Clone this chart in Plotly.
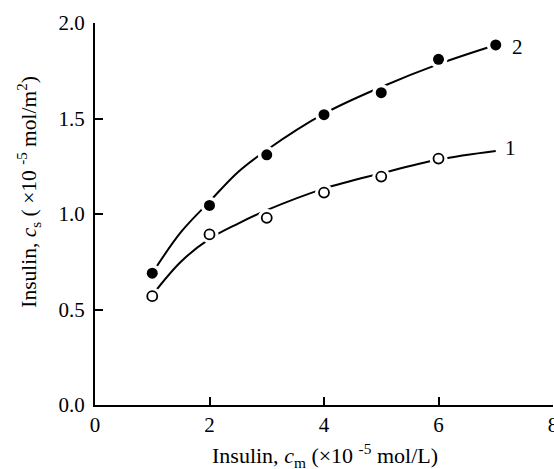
import plotly.graph_objects as go

series2_x = [1, 2, 3, 4, 5, 6, 7]
series2_y = [0.69, 1.045, 1.31, 1.52, 1.635, 1.81, 1.885]   # filled circles, curve "2"
series1_x = [1, 2, 3, 4, 5, 6]
series1_y = [0.57, 0.893, 0.98, 1.112, 1.196, 1.29]         # open circles, curve "1"

# Smooth fitted curves as drawn in the reference
curve2_x = [1, 1.5, 2, 2.5, 3, 4, 5, 6, 7]
curve2_y = [0.69, 0.905, 1.065, 1.22, 1.335, 1.525, 1.665, 1.785, 1.885]
curve1_x = [1, 1.5, 2, 2.5, 3, 4, 5, 6, 7]
curve1_y = [0.575, 0.75, 0.87, 0.95, 1.02, 1.133, 1.213, 1.285, 1.33]

x_ticks = [0, 2, 4, 6, 8]
y_ticks = [0.0, 0.5, 1.0, 1.5, 2.0]

FONT = "Liberation Serif"
fig = go.Figure()

for cx, cy in ((curve2_x, curve2_y), (curve1_x, curve1_y)):
    fig.add_trace(go.Scatter(x=cx, y=cy, mode="lines",
                             line=dict(color="black", width=2, shape="spline", smoothing=1.0),
                             hoverinfo="skip"))
# white halos to create gaps around markers
fig.add_trace(go.Scatter(x=series2_x, y=series2_y, mode="markers",
                         marker=dict(size=18, color="white", line=dict(width=0))))
fig.add_trace(go.Scatter(x=series1_x, y=series1_y, mode="markers",
                         marker=dict(size=18, color="white", line=dict(width=0))))
# markers
fig.add_trace(go.Scatter(x=series2_x, y=series2_y, mode="markers",
                         marker=dict(size=11, color="black", line=dict(width=0))))
fig.add_trace(go.Scatter(x=series1_x, y=series1_y, mode="markers",
                         marker=dict(size=10, color="white", line=dict(width=1.8, color="black"))))

fig.add_annotation(x=7.38, y=1.875, text="2", showarrow=False,
                   font=dict(family=FONT, size=21, color="black"))
fig.add_annotation(x=7.26, y=1.345, text="1", showarrow=False,
                   font=dict(family=FONT, size=21, color="black"))

fig.add_annotation(xref="paper", yref="paper", x=-0.144, y=0.5586,
                   text="Insulin, <i>c</i><sub>s</sub> ( ×10 <sup>-5</sup> mol/m<sup>2</sup>)",
                   textangle=-90, showarrow=False, xanchor="center", yanchor="middle",
                   font=dict(family=FONT, size=21.5, color="black"))
fig.add_annotation(xref="paper", yref="paper", x=0.502, y=-0.133,
                   text="Insulin, <i>c</i><sub>m</sub> (×10 <sup>-5</sup> mol/L)",
                   showarrow=False, xanchor="center", yanchor="middle",
                   font=dict(family=FONT, size=22, color="black"))

fig.update_layout(
    width=554, height=469,
    margin=dict(l=95, r=1, t=23, b=64, autoexpand=False),
    paper_bgcolor="white", plot_bgcolor="white",
    showlegend=False,
    xaxis=dict(range=[0, 8], tickvals=x_ticks, ticktext=[str(v) for v in x_ticks],
               ticks="inside", ticklen=8, tickwidth=1.5, tickcolor="black",
               showline=True, linecolor="black", linewidth=2, showgrid=False, zeroline=False,
               tickfont=dict(family=FONT, size=21, color="black"), ticklabeloverflow="allow",
               ticklabelstandoff=0, automargin=False, fixedrange=True),
    yaxis=dict(range=[0, 2.0], tickvals=y_ticks, ticktext=[f"{v:.1f}" for v in y_ticks],
               ticks="inside", ticklen=8, tickwidth=1.5, tickcolor="black",
               showline=True, linecolor="black", linewidth=2, showgrid=False, zeroline=False,
               tickfont=dict(family=FONT, size=21, color="black"), ticklabelstandoff=4,
               ticklabeloverflow="allow", automargin=False, fixedrange=True),
)

fig.write_html("out.html", config={"displayModeBar": False},
               post_script="document.body.style.margin='0px';document.body.style.overflow='hidden';")
